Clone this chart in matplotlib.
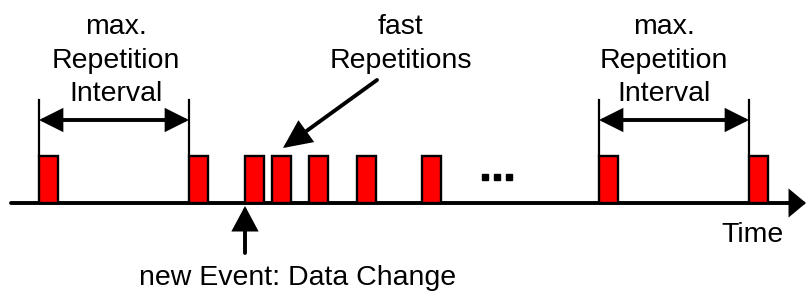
import matplotlib
matplotlib.use("Agg")
import matplotlib.pyplot as plt

# pulse start times (pixel-like time units along the axis)
pulse_times = [39, 189, 245, 272, 309, 357, 422, 599, 749]
pulse_width = 19
pulse_height = 47
axis_y = 203

interval_left = (39, 189)
interval_right = (599, 749)
label_left = ["max.", "Repetition", "Interval"]
label_right = ["max.", "Repetition", "Interval"]
label_fast = ["fast", "Repetitions"]
event_time = 245

plt.rcParams["font.family"] = ["Liberation Sans", "DejaVu Sans"]
FS = 20.5

fig = plt.figure(figsize=(8.06, 2.95), dpi=100)
ax = fig.add_axes([0, 0, 1, 1])
ax.set_xlim(0, 806)
ax.set_ylim(295, 0)
ax.axis("off")


def arrow(tail, tip, style, hl, hw, lw=2.6):
    ax.annotate("", xy=tip, xytext=tail,
                arrowprops=dict(arrowstyle=f"{style},head_length={hl},head_width={hw}",
                                lw=lw, color="black", shrinkA=0, shrinkB=0,
                                mutation_scale=1, joinstyle="miter"))


# time axis
arrow((11, axis_y), (806, axis_y), "-|>", 9, 7.5, lw=2.8)

# pulses
ax.bar(pulse_times, -pulse_height, bottom=axis_y, width=pulse_width,
       align="edge", color="#ff0000", edgecolor="black", linewidth=1.7, zorder=3)

# dots
ax.plot([485, 497, 509], [177, 177, 177], "s", color="black", ms=3.8)

# repetition interval markers
for a, b in (interval_left, interval_right):
    ax.plot([a, a], [100, axis_y - pulse_height], color="black", lw=1.6)
    ax.plot([b, b], [100, axis_y - pulse_height], color="black", lw=1.6)
    arrow((a, 120), (b, 120), "<|-|>", 13, 6.5, lw=2.8)

# labels
for lines, cx in ((label_left, 116), (label_right, 664)):
    for txt, by in zip(lines, [34, 68, 101]):
        ax.text(cx, by, txt, ha="center", va="baseline", fontsize=FS)
for txt, by in zip(label_fast, [34, 68]):
    ax.text(401, by, txt, ha="center", va="baseline", fontsize=FS)

# fast repetition pointer
arrow((377, 80), (283, 148), "-|>", 16, 7.5, lw=2.8)

# event arrow
arrow((event_time, 253), (event_time, 206), "-|>", 14, 7.5, lw=2.8)
ax.text(298, 285, "new Event: Data Change", ha="center", va="baseline", fontsize=FS)
ax.text(752, 242, "Time", ha="center", va="baseline", fontsize=FS)

fig.savefig("out.png", dpi=100)
